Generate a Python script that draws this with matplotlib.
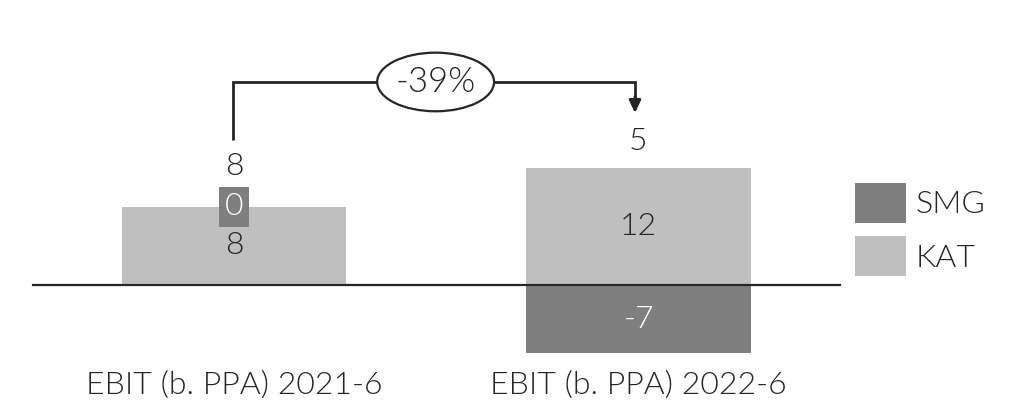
import matplotlib
matplotlib.use("Agg")
import matplotlib.pyplot as plt
from matplotlib.patches import Ellipse

# Data
categories = ["EBIT (b. PPA) 2021-6", "EBIT (b. PPA) 2022-6"]
kat = [8, 12]
smg = [0, -7]
totals = [k + s for k, s in zip(kat, smg)]
change_label = "-39%"

KAT_COLOR = "#bfbfbf"
SMG_COLOR = "#7f7f7f"
TEXT_COLOR = "#262626"
LINE_COLOR = "#262626"

plt.rcParams["font.family"] = ["Lato", "DejaVu Sans"]
FS = 23
FW = 300

fig = plt.figure(figsize=(10.13, 4.12), dpi=100)
ax = fig.add_axes([0, 0, 1, 1])
ax.set_xlim(-0.5785, 1.9258)
ax.set_ylim(-13.0, 29.17)
ax.axis("off")

x = list(range(len(categories)))
width = 0.554

# stacked bars: positive SMG sits on KAT, negative SMG hangs below zero
smg_bottom = [k if s >= 0 else 0 for k, s in zip(kat, smg)]
kat_bars = ax.bar(x, kat, width=width, color=KAT_COLOR, label="KAT", zorder=2)
smg_bars = ax.bar(x, smg, width=width, bottom=smg_bottom, color=SMG_COLOR,
                  label="SMG", zorder=2)

# zero line
ax.plot([-0.497, 1.498], [0, 0], color=LINE_COLOR, lw=1.6, zorder=3)

# segment labels
for xi, k in zip(x, kat):
    ax.text(xi, k / 2, f"{k}", ha="center", va="center", fontsize=FS,
            fontweight=FW, color=TEXT_COLOR, zorder=4)
for xi, s, b in zip(x, smg, smg_bottom):
    if s == 0:
        ax.text(xi, b, f"{s}", ha="center", va="center", fontsize=FS,
                fontweight=FW, color="white", zorder=4,
                bbox=dict(boxstyle="square,pad=0.17", fc=SMG_COLOR, ec="none"))
    else:
        ax.text(xi, b + s / 2, f"{s}", ha="center", va="center", fontsize=FS,
                fontweight=FW, color="white", zorder=4)

# total labels above each stack
total_offsets = [29, 19]  # points above the top of the stack
for xi, t, k, s, off in zip(x, totals, kat, smg, total_offsets):
    top = max(k, k + s)
    ax.annotate(f"{t}", xy=(xi, top), xytext=(0, off), textcoords="offset points",
                ha="center", va="center", fontsize=FS, fontweight=FW,
                color=TEXT_COLOR, zorder=4)

# change bracket between the two totals
y_start = 14.84
y_top = 20.78
y_tip = 17.6
x0, x1 = x[0] - 0.0025, x[1] - 0.0087
ax.plot([x0, x0, x1, x1], [y_start, y_top, y_top, y_tip + 1.4],
        color=LINE_COLOR, lw=2, solid_capstyle="butt", solid_joinstyle="miter",
        zorder=3)
ax.annotate("", xy=(x1, y_tip), xytext=(x1, y_tip + 1.7),
            arrowprops=dict(arrowstyle="-|>,head_length=0.75,head_width=0.35",
                            color=LINE_COLOR, lw=2, shrinkA=0, shrinkB=0),
            zorder=3)
xm = (x0 + x1) / 2 + 0.004
ax.add_patch(Ellipse((xm, y_top), width=0.289, height=6.0, fc="white",
                     ec=LINE_COLOR, lw=1.6, zorder=4))
ax.text(xm, y_top, change_label, ha="center", va="center", fontsize=FS + 2,
        fontweight=FW, color=TEXT_COLOR, zorder=5)

# category labels
for xi, c in zip(x, categories):
    ax.text(xi, -10.24, c, ha="center", va="center", fontsize=FS,
            fontweight=FW, color=TEXT_COLOR)

# legend
leg = ax.legend(handles=[smg_bars, kat_bars], labels=["SMG", "KAT"],
                loc="upper left", bbox_to_anchor=(855 / 1013, 1 - 183 / 412),
                frameon=False, handlelength=1.6, handleheight=1.54,
                handletextpad=0.3, labelspacing=0.42, borderpad=0,
                borderaxespad=0, prop={"family": "Lato", "weight": FW, "size": FS})
for t in leg.get_texts():
    t.set_color(TEXT_COLOR)

fig.savefig("out.png", dpi=100)
